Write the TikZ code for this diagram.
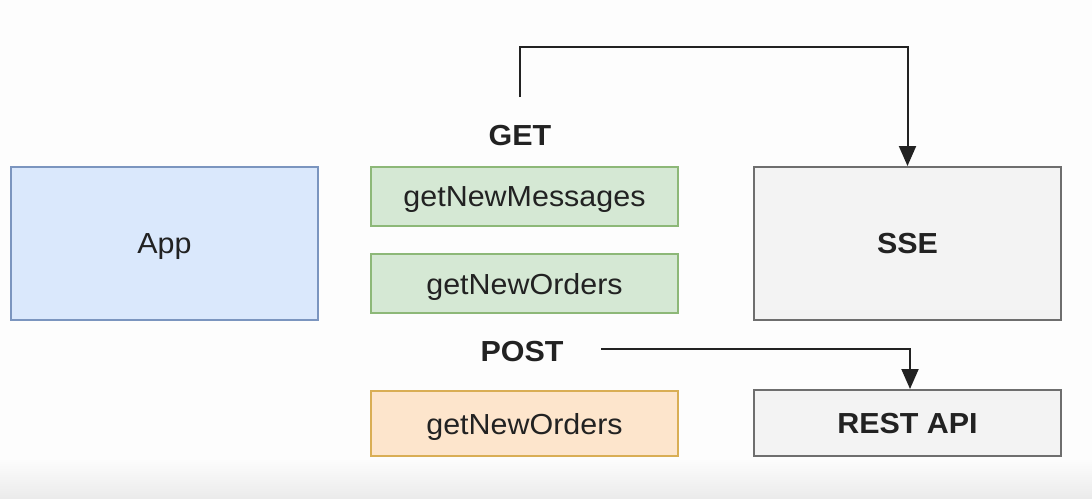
\documentclass[tikz,border=0pt]{standalone}
\usepackage{fontspec}
\setmainfont[FakeStretch=1.05]{Liberation Sans}
\usetikzlibrary{arrows.meta}
\definecolor{bluefill}{HTML}{DAE8FC}
\definecolor{blueline}{HTML}{7B95BF}
\definecolor{greenfill}{HTML}{D5E8D4}
\definecolor{greenline}{HTML}{8DB878}
\definecolor{orangefill}{HTML}{FDE5CC}
\definecolor{orangeline}{HTML}{D9AE55}
\definecolor{greyfill}{HTML}{F3F3F3}
\definecolor{greyline}{HTML}{6E6E6E}
\definecolor{ink}{HTML}{222222}
\definecolor{bg}{HTML}{FDFDFD}
\definecolor{bgbottom}{HTML}{EBEBEB}
\tikzset{
  box/.style={draw, line width=2pt, inner sep=0pt, text depth=0pt, font=\fontsize{29}{32}\selectfont, text=ink},
  bluebox/.style={box, fill=bluefill, draw=blueline},
  greenbox/.style={box, fill=greenfill, draw=greenline},
  orangebox/.style={box, fill=orangefill, draw=orangeline},
  greybox/.style={box, fill=greyfill, draw=greyline, font=\fontsize{29}{32}\selectfont\bfseries},
  lbl/.style={font=\fontsize{29}{32}\selectfont\bfseries, text=ink, inner sep=0pt},
  conn/.style={line width=2pt, draw=ink, -{Triangle[length=20pt,width=17pt]}}
}
\begin{document}
\begin{tikzpicture}[x=1pt,y=-1pt]
\useasboundingbox (0,0) rectangle (1092,498);
\fill[bg] (0,0) rectangle (1092,498);
\shade[top color=bg, bottom color=bgbottom] (0,458) rectangle (1092,498);
\node[bluebox, minimum width=307pt, minimum height=153pt] (app) at (164.5,243.5) {App};
\node[greenbox, minimum width=307pt, minimum height=59pt] (msgs) at (524.5,196.5) {getNewMessages};
\node[greenbox, minimum width=307pt, minimum height=59pt] (orders1) at (524.5,283.5) {getNewOrders};
\node[orangebox, minimum width=307pt, minimum height=65pt] (orders2) at (524.5,423.5) {getNewOrders};
\node[greybox, minimum width=307pt, minimum height=153pt] (sse) at (907.5,243.5) {SSE};
\node[greybox, minimum width=307pt, minimum height=66pt] (rest) at (907.5,423) {REST API};
\node[lbl] (get) at (520,136) {GET};
\node[lbl] (post) at (522,352) {POST};
\coordinate (getstart) at (520,97);
\coordinate (poststart) at (601,349);
\coordinate (restin) at (910,389);
\draw[conn] (getstart) -- (520,47) -| (sse.north);
\draw[conn] (poststart) -| (restin);
\end{tikzpicture}
\end{document}
